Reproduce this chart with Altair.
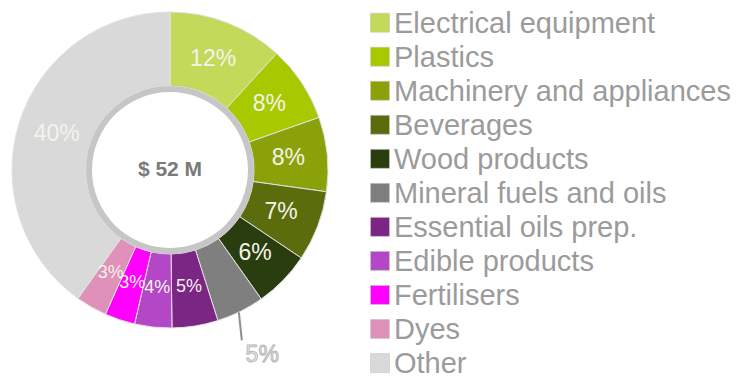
import math
import altair as alt
import pandas as pd

# ---- data ----
categories = [
    "Electrical equipment",
    "Plastics",
    "Machinery and appliances",
    "Beverages",
    "Wood products",
    "Mineral fuels and oils",
    "Essential oils prep.",
    "Edible products",
    "Fertilisers",
    "Dyes",
    "Other",
]
shares = [11.8, 7.8, 7.6, 7.2, 5.8, 4.9, 4.7, 3.8, 3.1, 3.2, 40.1]
colors = [
    "#c2d95a", "#a8c800", "#8aa10a", "#5a6c0c", "#2a3d0e",
    "#7f7f7f", "#7b2585", "#b347c6", "#ff00ff", "#e091b9", "#d9d9d9",
]
center_label = ["$ 52 M"]
outside_category = "Mineral fuels and oils"

# ---- layout constants ----
CX, CY = 170, 170
R_IN, R_OUT = 84, 158
R_LABEL = 119
R_OUTSIDE = 207
FONT = "Liberation Sans"

df = pd.DataFrame({"category": categories, "share": shares, "idx": list(range(len(categories)))})

base = (
    alt.Chart(df)
    .transform_joinaggregate(total="sum(share)")
    .transform_calculate(pct="datum.share / datum.total * 100")
    .transform_window(cum="sum(pct)", sort=[alt.SortField("idx")], frame=[None, 0])
    .transform_calculate(
        start="datum.cum - datum.pct",
        mid="datum.cum - datum.pct / 2",
        label="format(datum.pct, '.0f') + '%'",
    )
)

theta_scale = alt.Scale(domain=[0, 100], range=[0, 2 * math.pi])
color_scale = alt.Scale(domain=categories, range=colors)

arcs = base.mark_arc(innerRadius=R_IN, outerRadius=R_OUT, stroke="#e2e2e2", strokeWidth=1).encode(
    x=alt.value(CX),
    y=alt.value(CY),
    theta=alt.Theta("start:Q", scale=theta_scale),
    theta2="cum:Q",
    color=alt.Color("category:N", scale=color_scale, legend=None),
)

ring = alt.Chart(pd.DataFrame({"k": [0]})).mark_arc(
    innerRadius=78, outerRadius=R_IN, color="#c6c6c6"
).encode(
    x=alt.value(CX), y=alt.value(CY),
    theta=alt.value(0), theta2=alt.value(2 * math.pi),
)

center = alt.Chart(pd.DataFrame({"t": center_label})).mark_text(
    fontSize=21, fontWeight="bold", color="#7a7a7a", font=FONT
).encode(x=alt.value(CX), y=alt.value(CY), text="t:N")

inside_labels = base.transform_filter(
    f"datum.category != '{outside_category}'"
).mark_text(radius=R_LABEL, font=FONT, color="#f4f4ea").encode(
    x=alt.value(CX),
    y=alt.value(CY),
    theta=alt.Theta("mid:Q", scale=theta_scale),
    text="label:N",
    size=alt.condition("datum.pct < 4.8", alt.value(18), alt.value(23)),
)

outside_label = base.transform_filter(
    f"datum.category == '{outside_category}'"
).mark_text(radius=R_OUTSIDE, font=FONT, fontSize=23, fill="#f2f2f2", stroke="#b8b8b8", strokeWidth=1).encode(
    x=alt.value(CX),
    y=alt.value(CY),
    theta=alt.Theta("mid:Q", scale=theta_scale),
    text="label:N",
)

leader = (
    base.transform_filter(f"datum.category == '{outside_category}'")
    .transform_calculate(
        a="datum.mid / 100 * 2 * PI",
    )
    .transform_calculate(
        lx=f"{CX} + {R_OUT + 1} * sin(datum.a) - 2",
        ly=f"{CY} - {R_OUT + 1} * cos(datum.a)",
    )
    .transform_calculate(lx2="datum.lx + 3", ly2="datum.ly + 28")
    .mark_rule(color="#8e8e8e", strokeWidth=2)
    .encode(
        x=alt.X("lx:Q", scale=None),
        y=alt.Y("ly:Q", scale=None),
        x2="lx2:Q",
        y2="ly2:Q",
    )
)

legend_y = alt.Y(
    "category:N",
    sort=categories,
    scale=alt.Scale(type="point", domain=categories, range=[22.7, 363], padding=0),
    axis=None,
)

legend_sq = alt.Chart(df).mark_square(size=361, opacity=1, stroke="#c8c8c8", strokeWidth=0.6).encode(
    x=alt.value(380),
    y=legend_y,
    color=alt.Color("category:N", scale=color_scale, legend=None),
)

legend_txt = alt.Chart(df).mark_text(
    align="left", baseline="middle", fontSize=29, color="#9b9b9b", font=FONT, dy=1
).encode(x=alt.value(394), y=legend_y, text="category:N")

chart = (
    alt.layer(arcs, ring, center, inside_labels, outside_label, leader, legend_sq, legend_txt)
    .resolve_scale(x="independent", y="independent")
    .properties(width=741, height=379, padding=0, autosize="none")
    .configure_view(strokeWidth=0)
)

chart.save("out.html", embed_options={"renderer": "svg", "actions": False})
